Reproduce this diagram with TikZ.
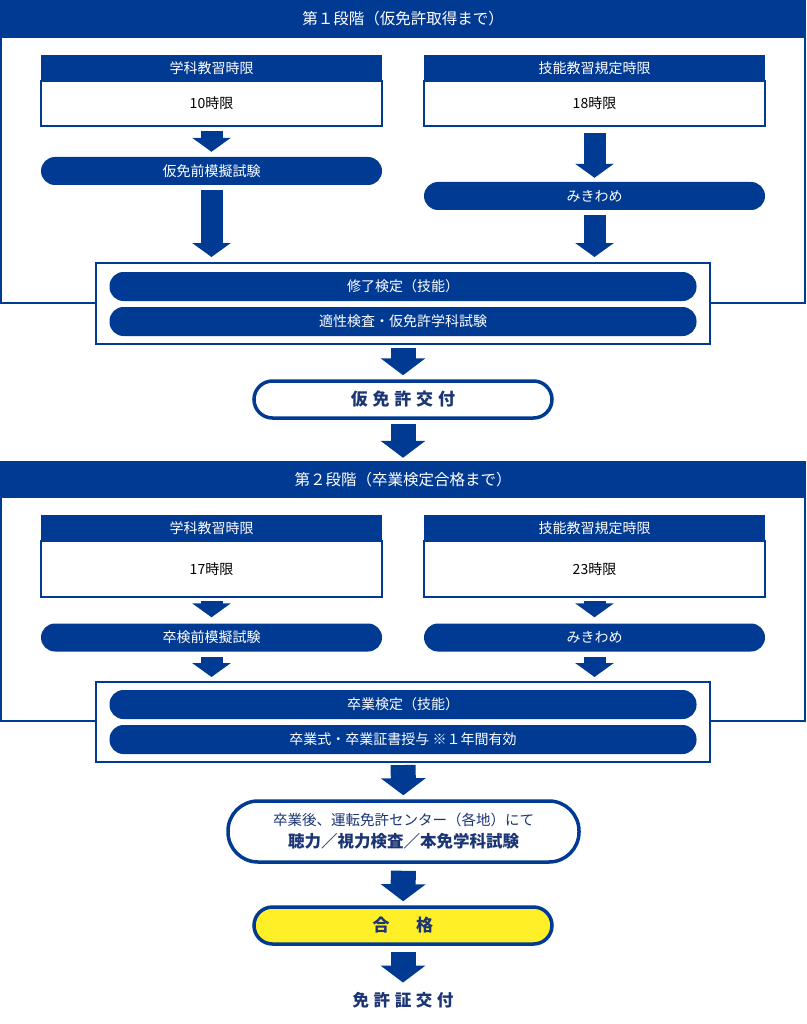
\documentclass[tikz,border=0pt]{standalone}
\usepackage{fontspec}
\setmainfont{Noto Sans CJK JP}
\newfontfamily\spaced{Noto Sans CJK JP}[LetterSpace=28]
\usetikzlibrary{arrows.meta}

\definecolor{jblue}{HTML}{003A93}
\definecolor{jnavy}{HTML}{1B3575}
\definecolor{jyellow}{HTML}{FFEF26}

\tikzset{
  hdr/.style={fill=jblue, text=white, minimum width=806, minimum height=38, inner sep=0,
    font=\fontsize{15.5}{18}\selectfont},
  frame/.style={draw=jblue, line width=2},
  tabhead/.style={fill=jblue, text=white, minimum width=341, minimum height=26, inner sep=0,
    font=\fontsize{14}{16}\selectfont},
  tabbody/.style={draw=jblue, line width=1.5, fill=white, minimum width=341, inner sep=0,
    font=\fontsize{14}{16}\selectfont},
  pill/.style={fill=jblue, text=white, rounded corners=14, minimum width=341, minimum height=28,
    inner sep=0, font=\fontsize{14}{16}\selectfont},
  widepill/.style={pill, minimum width=587, minimum height=29},
  group/.style={draw=jblue, line width=2, fill=white, minimum width=614, inner sep=0},
  outpill/.style={draw=jblue, line width=3.5, fill=white, rounded corners=18.5, minimum width=298,
    minimum height=37, inner sep=0, text=jnavy, font=\spaced\bfseries\fontsize{17}{20}\selectfont},
  goalpill/.style={outpill, fill=jyellow},
  colarrow/.style={draw=jblue, line width=22, -{Triangle[width=38pt,length=14pt]}},
  midarrow/.style={draw=jblue, line width=25, -{Triangle[width=44pt,length=17pt]}}
}

\begin{document}
\begin{tikzpicture}[x=1pt, y=-1pt]
	\useasboundingbox (0,0) rectangle (806,1024);
	
	%stage 1
	\draw[frame] (1,19) rectangle (805,303);
	\node[hdr] (hdr1) at (403,19) {第１段階（仮免許取得まで）};
	
	\node[tabhead] (gk1) at (211.5,68) {学科教習時限};
	\node[tabbody, minimum height=45] (gb1) at (211.5,103.5) {10時限};
	\node[pill] (pm1) at (211.5,171) {仮免前模擬試験};
	
	\node[tabhead] (sk1) at (594.5,68) {技能教習規定時限};
	\node[tabbody, minimum height=45] (sb1) at (594.5,103.5) {18時限};
	\node[pill] (mk1) at (594.5,196) {みきわめ};
	
	\node[group, minimum height=81] (grp1) at (403,303.5) {};
	\node[widepill] (sh1) at (403,286.5) {修了検定（技能）};
	\node[widepill] (tk1) at (403,321.5) {適性検査・仮免許学科試験};
	
	\node[outpill] (kari) at (403,399.5) {仮免許交付};
	
	%stage 2
	\draw[frame] (1,480) rectangle (805,721);
	\node[hdr, minimum height=37] (hdr2) at (403,479.5) {第２段階（卒業検定合格まで）};
	
	\node[tabhead] (gk2) at (211.5,528) {学科教習時限};
	\node[tabbody, minimum height=56] (gb2) at (211.5,569) {17時限};
	\node[pill] (pm2) at (211.5,637.5) {卒検前模擬試験};
	
	\node[tabhead] (sk2) at (594.5,528) {技能教習規定時限};
	\node[tabbody, minimum height=56] (sb2) at (594.5,569) {23時限};
	\node[pill] (mk2) at (594.5,637.5) {みきわめ};
	
	\node[group, minimum height=80] (grp2) at (403,722) {};
	\node[widepill] (sg2) at (403,704.5) {卒業検定（技能）};
	\node[widepill] (ss2) at (403,739.5) {卒業式・卒業証書授与 ※１年間有効};
	
	\node[outpill, minimum width=351, minimum height=61, rounded corners=30, align=center,
	  font=\fontsize{14.5}{22}\selectfont] (cn) at (403.5,831.5)
	  {卒業後、運転免許センター（各地）にて\\{\bfseries\fontsize{16.5}{22}\selectfont 聴力／視力検査／本免学科試験}};
	\node[goalpill] (goal) at (403,925.5) {合　格};
	\node[text=jnavy, font=\spaced\bfseries\fontsize{16.5}{20}\selectfont] (lic) at (403,1000) {免許証交付};
	
	%arrows
	\draw[colarrow, shorten <=4, shorten >=5] (gb1) -- (pm1);
	\draw[colarrow, shorten <=5, shorten >=5] (pm1) -- (pm1.south |- grp1.north);
	\draw[colarrow, shorten <=6, shorten >=4] (sb1) -- (mk1);
	\draw[colarrow, shorten <=5, shorten >=5] (mk1) -- (mk1.south |- grp1.north);
	\draw[midarrow, shorten <=3, shorten >=4] (grp1) -- (kari);
	\draw[midarrow, shorten <=4, shorten >=3] (kari) -- (hdr2);
	\draw[colarrow, shorten <=3, shorten >=6] (gb2) -- (pm2);
	\draw[colarrow, shorten <=5, shorten >=4] (pm2) -- (pm2.south |- grp2.north);
	\draw[colarrow, shorten <=3, shorten >=6] (sb2) -- (mk2);
	\draw[colarrow, shorten <=5, shorten >=4] (mk2) -- (mk2.south |- grp2.north);
	\draw[midarrow, shorten <=2, shorten >=4] (grp2) -- (cn);
	\draw[midarrow, shorten <=7, shorten >=4] (cn) -- (goal);
	\draw[midarrow, shorten <=6, shorten >=6] (goal) -- (lic);
\end{tikzpicture}
\end{document}
